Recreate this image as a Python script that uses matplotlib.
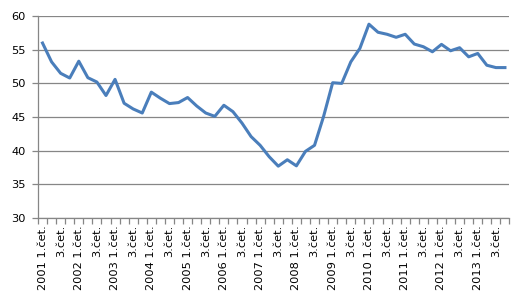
import numpy as np
import matplotlib.pyplot as plt

# quarterly values 2001 Q1 .. 2013 Q4
years = list(range(2001, 2014))
values = [56.0, 53.2, 51.5, 50.8, 53.3, 50.85, 50.2, 48.2,
          50.6, 47.05, 46.2, 45.6, 48.7, 47.8, 47.0, 47.15,
          47.9, 46.65, 45.6, 45.1, 46.75, 45.8, 44.1, 42.1,
          40.8, 39.1, 37.7, 38.65, 37.75, 39.9, 40.8, 45.1,
          50.1, 50.0, 53.2, 55.2, 58.8, 57.6, 57.3, 56.85,
          57.3, 55.85, 55.45, 54.7, 55.8, 54.85, 55.3, 53.95,
          54.45, 52.7, 52.35, 52.35]

labels = []
for y in years:
    labels += [str(y) + " 1.čet.", "", "3.čet.", ""]

fig = plt.figure(figsize=(5.26, 3.04), dpi=100)
ax = fig.add_axes([0.0722, 0.283, 0.8964, 0.664])

x = np.arange(len(values))
ax.plot(x, values, color="#4a7ebb", lw=2.2, solid_joinstyle="round")

ax.set_xlim(-0.5, len(values) - 0.5)
ax.set_ylim(30, 60)
ax.set_yticks(np.arange(30, 61, 5))
ax.yaxis.grid(True, color="#868686", lw=0.9)
ax.set_axisbelow(True)

ax.set_xticks(x[::2])
ax.set_xticklabels([labels[i] for i in x[::2]], rotation=90, fontsize=8.2)
ax.set_xticks(np.arange(-0.5, len(values), 1), minor=True)
ax.tick_params(axis="x", which="major", length=0, pad=5)
ax.tick_params(axis="x", which="minor", length=4, color="#868686", width=0.9)
ax.tick_params(axis="y", length=4, color="#868686", width=0.9, labelsize=8.2, pad=5)

for s in ["top", "right"]:
    ax.spines[s].set_visible(False)
for s in ["left", "bottom"]:
    ax.spines[s].set_color("#868686")
    ax.spines[s].set_linewidth(0.9)

fig.savefig("out.png", dpi=100)
